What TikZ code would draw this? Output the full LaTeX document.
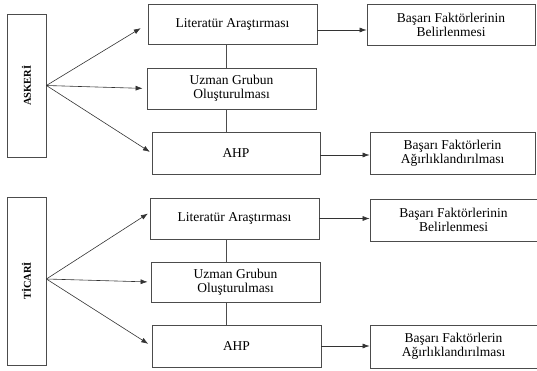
\documentclass[tikz,border=0pt]{standalone}
\usepackage{fontspec}
\setmainfont{Liberation Serif}
\usetikzlibrary{arrows.meta}

\begin{document}
\begin{tikzpicture}[x=1pt,y=-1pt]
        \tikzset{
            stage/.style={
                    rectangle,
                    draw=black!70,
                    line width=0.8pt,
                    align=center,
                    inner sep=0pt,
                    minimum height=41pt,
                    font=\fontsize{13.5}{14}\selectfont,
                },
            sector/.style={
                    rectangle,
                    draw=black!70,
                    line width=0.8pt,
                    inner sep=0pt,
                    minimum width=39pt,
                    font=\fontsize{10.5}{12}\selectfont\bfseries,
                },
            connection/.style={-{Latex[length=7pt,width=5pt]}, line width=0.6pt, draw=black!80},
            link/.style={line width=0.6pt, draw=black!70},
        }
        \useasboundingbox (0,0) rectangle (537,371);
        % ASKERI
        \node[sector, minimum height=143pt] (asker) at (26.5, 85.5) {\rotatebox{90}{ASKERİ}};
        \node[stage, minimum width=169pt, minimum height=40pt] (lit1) at (232.5, 24) {Literatür Araştırması};
        \node[stage, minimum width=169pt] (uzm1) at (231.5, 88.5) {Uzman Grubun\\Oluşturulması};
        \node[stage, minimum width=168pt, minimum height=42pt] (ahp1) at (236, 153) {AHP};
        \node[stage, minimum width=168pt] (bel1) at (451, 24.5) {Başarı Faktörlerinin\\Belirlenmesi};
        \node[stage, minimum width=165pt, minimum height=42pt] (agr1) at (452.5, 153) {Başarı Faktörlerin\\Ağırlıklandırılması};
        \draw[connection, shorten >=8pt] (asker.east) -- (lit1.west);
        \draw[connection, shorten >=4pt] (asker.east) -- (uzm1.west);
        \draw[connection, shorten >=2pt] (asker.east) -- (ahp1.west);
        \draw[link] ([xshift=-6pt]lit1.south) -- ([xshift=-6pt]lit1.south |- uzm1.north);
        \draw[link] ([xshift=-6pt]lit1.south |- uzm1.south) -- ([xshift=-6pt]lit1.south |- ahp1.north);
        \draw[connection] ([yshift=-6pt]lit1.east) -- ([yshift=-6pt]lit1.east -| bel1.west);
        \draw[connection] ([yshift=-2pt]ahp1.east) -- ([yshift=-2pt]ahp1.east -| agr1.west);
        % TICARI
        \node[sector, minimum height=168pt] (ticar) at (26.5, 281) {\rotatebox{90}{TİCARİ}};
        \node[stage, minimum width=169pt] (lit2) at (234.5, 218.5) {Literatür Araştırması};
        \node[stage, minimum width=169pt, minimum height=40pt] (uzm2) at (235.5, 282) {Uzman Grubun\\Oluşturulması};
        \node[stage, minimum width=169pt, minimum height=42pt] (ahp2) at (236.5, 346) {AHP};
        \node[stage, minimum width=167pt, minimum height=42pt] (bel2) at (453.5, 220) {Başarı Faktörlerinin\\Belirlenmesi};
        \node[stage, minimum width=167pt, minimum height=43pt] (agr2) at (453.5, 346.5) {Başarı Faktörlerin\\Ağırlıklandırılması};
        \draw[connection, shorten >=2pt] ([yshift=2pt]ticar.east) -- ([yshift=6pt]lit2.west);
        \draw[connection, shorten >=3pt] ([yshift=2pt]ticar.east) -- (uzm2.west);
        \draw[connection, shorten >=4pt] ([yshift=2pt]ticar.east) -- (ahp2.west);
        \draw[link] ([xshift=-8pt]lit2.south) -- ([xshift=-8pt]lit2.south |- uzm2.north);
        \draw[link] ([xshift=-8pt]lit2.south |- uzm2.south) -- ([xshift=-8pt]lit2.south |- ahp2.north);
        \draw[connection] (lit2.east) -- (lit2.east -| bel2.west);
        \draw[connection] (ahp2.east) -- (ahp2.east -| agr2.west);
\end{tikzpicture}
\end{document}
